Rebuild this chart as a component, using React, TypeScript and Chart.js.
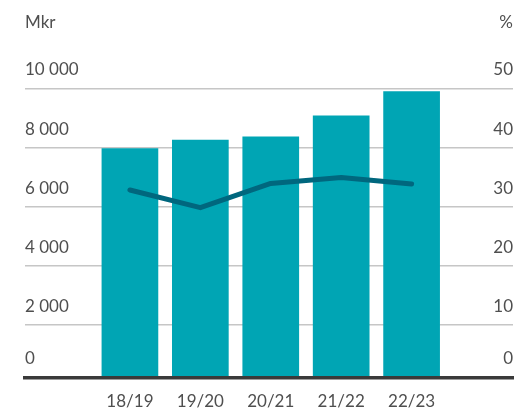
import React, { useEffect, useRef } from "react";
import { Chart, registerables } from "chart.js";

Chart.register(...registerables);

const categories = ["18/19", "19/20", "20/21", "21/22", "22/23"];
const revenue = [7990, 8285, 8388, 9103, 9922];
const marginPct = [32.9, 29.9, 34.0, 35.0, 33.9];
const leftTickValues = [2000, 4000, 6000, 8000, 10000];
const rightTickValues = [10, 20, 30, 40, 50];
const leftTitle = "Mkr";
const rightTitle = "%";

const LEFT_MIN = 224;
const RIGHT_MIN = 1.12;
const FONT = "Lato, 'Open Sans', sans-serif";
const TEXT = "#4f4f4f";

const fmt = (v: number) => String(Math.round(v)).replace(/\B(?=(\d{3})+(?!\d))/g, " ");

const titlesPlugin = {
  id: "axisTitles",
  afterDraw(chart: any) {
    const { ctx, chartArea } = chart;
    ctx.save();
    ctx.font = `17px ${FONT}`;
    ctx.fillStyle = TEXT;
    ctx.textBaseline = "middle";
    ctx.textAlign = "left";
    ctx.fillText(leftTitle, chartArea.left, 23);
    ctx.textAlign = "right";
    ctx.fillText(rightTitle, chartArea.right, 23);
    ctx.restore();
  },
};

export default function App() {
  const ref = useRef<HTMLCanvasElement>(null);
  useEffect(() => {
    document.body.style.margin = "0";
    if (!ref.current) return;
    const chart = new Chart(ref.current, {
      type: "bar",
      data: {
        datasets: [
          {
            type: "line",
            label: "%",
            data: marginPct.map((y, i) => ({ x: i, y })),
            yAxisID: "y1",
            xAxisID: "x",
            borderColor: "#00677e",
            borderWidth: 5,
            borderCapStyle: "round",
            borderJoinStyle: "round",
            pointRadius: 0,
            pointHoverRadius: 0,
            tension: 0,
            order: 0,
          } as any,
          {
            type: "bar",
            label: "Mkr",
            data: revenue.map((y, i) => ({ x: i, y })),
            yAxisID: "y",
            xAxisID: "x",
            backgroundColor: "#00a5b4",
            barPercentage: 1,
            categoryPercentage: 0.805,
            order: 1,
          } as any,
        ],
      },
      options: {
        responsive: false,
        animation: false,
        devicePixelRatio: 1,
        layout: { autoPadding: false, padding: { left: 25, right: 12, top: 89, bottom: -17 } },
        plugins: { legend: { display: false }, tooltip: { enabled: false } },
        scales: {
          x: {
            type: "linear",
            min: -1.49,
            max: 5.44,
            offset: false,
            grid: { display: false, drawTicks: false },
            border: { display: true, color: "#3a3a3a", width: 3.6, z: 1 },
            afterBuildTicks: (axis: any) => {
              axis.ticks = categories.map((_, i) => ({ value: i }));
            },
            ticks: {
              autoSkip: false,
              maxRotation: 0,
              padding: 14,
              color: TEXT,
              font: { family: FONT, size: 17 },
              callback: (v: any) => categories[v as number] ?? "",
            },
          },
          y: {
            position: "left",
            min: LEFT_MIN,
            max: 10000,
            afterBuildTicks: (axis: any) => {
              axis.ticks = [{ value: LEFT_MIN }, ...leftTickValues.map((v) => ({ value: v }))];
            },
            grid: {
              drawTicks: false,
              lineWidth: 1.5,
              color: (c: any) => (c.tick && c.tick.value === LEFT_MIN ? "rgba(0,0,0,0)" : "#c6c6c6"),
            },
            border: { display: false },
            ticks: {
              mirror: true,
              padding: 0,
              labelOffset: -19,
              color: TEXT,
              font: { family: FONT, size: 17 },
              callback: (v: any) => (v === LEFT_MIN ? "0" : fmt(v)),
            },
          },
          y1: {
            position: "right",
            min: RIGHT_MIN,
            max: 50,
            afterBuildTicks: (axis: any) => {
              axis.ticks = [{ value: RIGHT_MIN }, ...rightTickValues.map((v) => ({ value: v }))];
            },
            grid: { display: false, drawTicks: false },
            border: { display: false },
            ticks: {
              mirror: true,
              padding: 0,
              labelOffset: -19,
              color: TEXT,
              font: { family: FONT, size: 17 },
              callback: (v: any) => (v === RIGHT_MIN ? "0" : String(v)),
            },
          },
        },
      },
      plugins: [titlesPlugin],
    });
    return () => chart.destroy();
  }, []);
  return (
    <div style={{ width: 525, height: 409 }}>
      <canvas ref={ref} width={525} height={409} style={{ display: "block" }} />
    </div>
  );
}
